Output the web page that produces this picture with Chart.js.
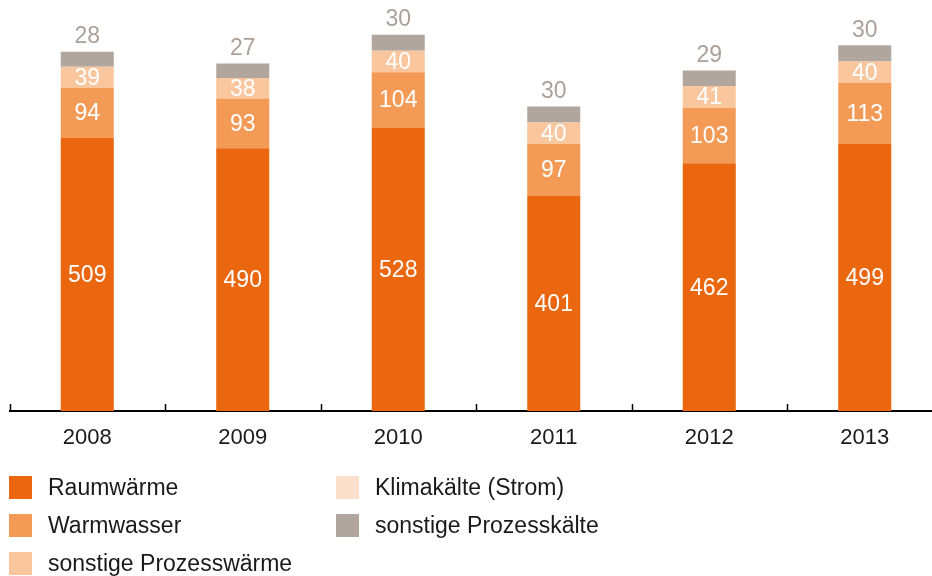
<!DOCTYPE html>
<html>
<head>
<meta charset="utf-8">
<script src="https://cdn.jsdelivr.net/npm/chart.js@4.4.1/dist/chart.umd.min.js"></script>
<style>
    html, body { margin: 0; padding: 0; background: #fff; overflow: hidden; width: 932px; height: 576px; }
    #wrap { position: relative; width: 945px; height: 576px; }
    #legend { position: absolute; left: 0; top: 0; font-family: "Liberation Sans", Arial, sans-serif; font-size: 23px; color: #1a1a1a; }
    .item { position: absolute; height: 23px; display: flex; align-items: center; white-space: nowrap; }
    .box { width: 23px; height: 23px; margin-right: 16px; flex: none; }
</style>
</head>
<body>
<div id="wrap">
    <canvas id="chart" width="945" height="576"></canvas>
    <div id="legend"></div>
</div>
<script>
    // Data
    var years = ['2008', '2009', '2010', '2011', '2012', '2013'];
    var raumwaerme = [509, 490, 528, 401, 462, 499];
    var warmwasser = [94, 93, 104, 97, 103, 113];
    var prozesswaerme = [39, 38, 40, 40, 41, 40];
    var klimakaelte = [0, 0, 0, 0, 0, 0];
    var prozesskaelte = [28, 27, 30, 30, 29, 30];

    var seriesNames = ['Raumwärme', 'Warmwasser', 'sonstige Prozesswärme', 'Klimakälte (Strom)', 'sonstige Prozesskälte'];
    var seriesColors = ['#ea670f', '#f39a56', '#fac69e', '#fde0cb', '#b1a69d'];
    var seriesData = [raumwaerme, warmwasser, prozesswaerme, klimakaelte, prozesskaelte];

    var FONT = '"Liberation Sans", Arial, sans-serif';

    // small upward tick marks between the categories
    var axisTicks = {
        id: 'axisTicks',
        afterDraw: function (chart) {
            var x = chart.scales.x;
            var ctx = chart.ctx;
            var n = chart.data.labels.length;
            ctx.save();
            ctx.strokeStyle = '#000';
            ctx.lineWidth = 1.5;
            for (var i = 0; i <= n; i++) {
                var px = Math.round(x.left + i * x.width / n) + 0.5;
                ctx.beginPath();
                ctx.moveTo(px, x.top - 7);
                ctx.lineTo(px, x.top);
                ctx.stroke();
            }
            ctx.restore();
        }
    };

    // value labels inside the segments, top series above the bar
    var valueLabels = {
        id: 'valueLabels',
        afterDatasetsDraw: function (chart) {
            var ctx = chart.ctx;
            var last = chart.data.datasets.length - 1;
            ctx.save();
            ctx.font = '23px ' + FONT;
            ctx.textAlign = 'center';
            ctx.textBaseline = 'middle';
            chart.data.datasets.forEach(function (ds, d) {
                var meta = chart.getDatasetMeta(d);
                meta.data.forEach(function (bar, i) {
                    var v = ds.data[i];
                    if (!v) return;
                    if (d === last) {
                        ctx.fillStyle = '#aca198';
                        ctx.fillText(String(v), bar.x, bar.y - 15);
                    } else {
                        ctx.fillStyle = '#ffffff';
                        ctx.fillText(String(v), bar.x, (bar.y + bar.base) / 2 + 1);
                    }
                });
            });
            ctx.restore();
        }
    };

    var ctx = document.getElementById('chart').getContext('2d');
    var chart = new Chart(ctx, {
        type: 'bar',
        data: {
            labels: years,
            datasets: seriesNames.map(function (name, k) {
                return {
                    label: name,
                    data: seriesData[k],
                    backgroundColor: seriesColors[k],
                    borderWidth: 0,
                    categoryPercentage: 1,
                    barPercentage: 0.341
                };
            })
        },
        options: {
            responsive: false,
            animation: false,
            layout: { padding: { left: 9.5, right: 2.5, top: 25, bottom: 0 } },
            plugins: {
                legend: { display: false },
                tooltip: { enabled: false }
            },
            scales: {
                x: {
                    stacked: true,
                    grid: { display: false, drawTicks: false },
                    border: { display: true, color: '#000', width: 2 },
                    ticks: {
                        color: '#1a1a1a',
                        font: { family: FONT, size: 22 },
                        padding: 14
                    },
                    afterFit: function (scale) { scale.height = 165; }
                },
                y: {
                    stacked: true,
                    display: false,
                    min: 0,
                    max: 720
                }
            }
        },
        plugins: [axisTicks, valueLabels]
    });

    // legend in two columns, filled column by column
    var legend = document.getElementById('legend');
    var colLeft = [9, 336];
    var rowTop = [476, 514, 552];
    chart.data.datasets.forEach(function (ds, k) {
        var col = k < 3 ? 0 : 1;
        var row = k < 3 ? k : k - 3;
        var item = document.createElement('div');
        item.className = 'item';
        item.style.left = colLeft[col] + 'px';
        item.style.top = rowTop[row] + 'px';
        var box = document.createElement('span');
        box.className = 'box';
        box.style.background = ds.backgroundColor;
        var text = document.createElement('span');
        text.textContent = ds.label;
        item.appendChild(box);
        item.appendChild(text);
        legend.appendChild(item);
    });
</script>
</body>
</html>
